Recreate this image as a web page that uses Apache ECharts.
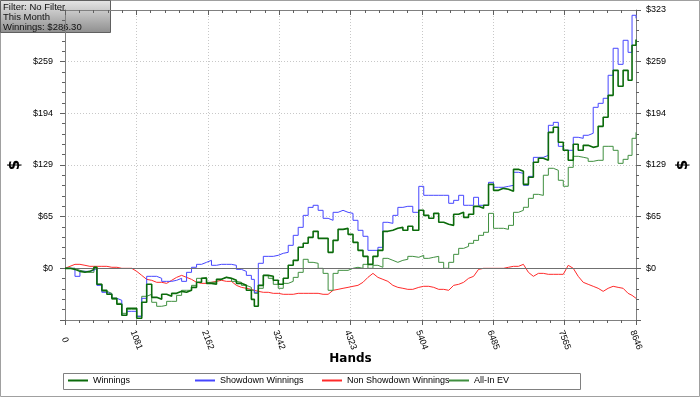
<!DOCTYPE html>
<html><head><meta charset="utf-8">
<script src="https://cdn.jsdelivr.net/npm/echarts@6/dist/echarts.min.js"></script>
<style>html,body{margin:0;padding:0;background:#fff}#c{width:700px;height:397px}</style>
</head><body><div id="c"></div>
<script>
const hands = [0,75,151,226,302,377,438,483,558,634,709,785,860,936,1011,1086,1162,1237,1313,1388,1464,1539,1615,1690,1766,1841,1916,1992,2067,2143,2218,2294,2369,2445,2520,2595,2671,2746,2822,2867,2927,3003,3078,3154,3229,3305,3380,3456,3531,3607,3682,3757,3833,3908,3984,4059,4135,4210,4286,4361,4436,4512,4587,4663,4738,4814,4889,4965,5040,5116,5191,5266,5357,5432,5508,5583,5659,5734,5810,5885,5961,6036,6111,6187,6262,6338,6413,6489,6564,6640,6715,6791,6866,6941,7017,7092,7168,7243,7319,7394,7470,7545,7620,7696,7771,7847,7922,7998,8073,8149,8224,8300,8375,8451,8526,8586,8646];
const winnings = [0,-1.3,-3.8,-5,-3.8,-1.3,1.3,-20,-27.5,-32.5,-37.5,-45,-58.8,-50,-50,-62.5,-42.5,-20,-36.3,-38.8,-32.5,-35,-31.3,-28.8,-30,-27.5,-23.8,-17.5,-12.5,-18.8,-20,-13.8,-11.3,-12.5,-15,-18.8,-21.3,-27.5,-38.8,-47.5,-21.3,-8.8,-10,-15,-20,-12.5,3.8,10,26.3,31.3,38.8,46.3,37.5,37.5,20,35,48.8,50,42.5,32.5,22.5,15,5,15,22.5,46.3,47.6,50.1,51.3,47.6,52.6,47.6,72.6,66.3,62.6,68.8,57.6,55.1,53.8,67.6,70.1,63.8,67.6,77.6,75.1,78.9,105.1,97.6,100.1,98.9,96.4,123.9,121.4,105.1,113.9,132.7,137.7,135.2,170.2,176.5,157.7,147.7,135.2,155.2,147.7,153.9,151.4,152.7,177.7,189,216.5,247.8,227.8,247.8,235.3,279.1,286.3];
const showdownWinnings = [0,0,-10,-3.8,-3.8,-2.5,0,-21.3,-30,-32.5,-37.5,-40,-58.8,-53.8,-53.8,-60,-37.5,-10,-10,-12.5,-16.3,-16.3,-15,-12.5,-16.3,-5,1.3,5,7.5,10,3.8,5,5,5,3.8,-1.3,-3.8,-8.8,-13.8,-30,6.3,15,15,16.3,18.8,20,28.8,41.3,51.3,66.3,76.3,78.9,72.6,62.6,60.1,70.1,72.6,70.1,68.8,60.1,47.6,40.1,22.5,22.5,26.3,57.6,56.3,66.3,76.3,77.6,77.6,70.1,102.6,91.4,91.4,91.4,91.4,91.4,81.4,85.1,91.4,78.9,78.9,88.9,78.9,78.9,107.6,101.4,101.4,102.6,103.9,120.2,118.9,103.9,115.1,138.9,138.9,141.4,179,182.7,152.7,147.7,147.7,164,162.7,166.5,169,201.5,206.5,212.8,241.6,275.4,255.3,285.4,270.3,316.7,312.9];
const nonShowdownWinnings = [0,2.5,5,5,3.8,2.5,2.5,2.5,2.5,2.5,1.3,1.3,0,0,0,-3.8,-8.8,-13.8,-15,-17.5,-17.5,-18.8,-15,-11.3,-8.8,-11.3,-13.8,-17.5,-18.8,-18.8,-17.5,-16.3,-15,-16.3,-16.3,-21.3,-23.8,-25,-26.3,-27.5,-28.8,-30,-30,-31.3,-31.3,-32.5,-32.5,-32.5,-31.3,-31.3,-31.3,-31.3,-31.3,-32.5,-32.5,-27.5,-26.3,-25,-23.8,-22.5,-21.3,-17.5,-11.3,-6.3,-11.3,-13.8,-16.3,-21.3,-23.8,-25,-26.3,-26.3,-23.8,-22.5,-22.5,-23.8,-26.3,-26.3,-27.5,-21.3,-20,-17.5,-12.5,-10,-1.3,0,0,0,0,0,1.3,2.5,2.5,5,-5,-10,-6.3,-6.3,-7.5,-7.5,-7.5,-7.5,3.8,0,-10,-17.5,-20,-22.5,-25,-28.8,-25,-22.5,-23.8,-25,-31.3,-33.8,-37.5];
const allInEV = [0,0,-2.5,-3.8,-5,-5,1.3,-20,-28.8,-31.3,-38.8,-43.8,-56.3,-51.3,-51.3,-60,-35,-32.5,-42.5,-47.5,-46.3,-41.3,-41.3,-33.8,-27.5,-27.5,-21.3,-12.5,-11.3,-17.5,-17.5,-13.8,-11.3,-12.5,-16.3,-17.5,-21.3,-23.8,-27.5,-31.3,-25,-8.8,-12.5,-20,-25,-18.8,-16.3,-11.3,-5,11.3,7.5,6.3,0,-6.3,-27.5,-6.3,-2.5,-2.5,0,1.3,0,5,0,3.8,1.3,12.5,10,7.5,10,11.3,15,13.8,16.3,12.5,13.8,15,7.5,0,7.5,17.5,25,27.5,31.3,35,41.3,45.1,68.8,50.1,50.1,48.8,53.8,70.1,72.6,76.4,87.6,92.6,91.3,116.5,125.2,122.7,110.2,102.7,126.4,140.2,139,137.7,133.9,135.2,135.2,152.7,152.7,147.7,131.4,136.4,141.4,162.7,170.2];
const yStep = 64.66;
const yMin = -64.66;
const yMax = 323.3;
const xStep = 1080.75;
const xMax = 8646;
const colors = {'Winnings':'#0b6b0b','Showdown Winnings':'#4646ff','Non Showdown Winnings':'#ff2a2a','All-In EV':'#3f8f3f'};

const FONT = 'Liberation Sans, Arial, sans-serif';
const chart = echarts.init(document.getElementById('c'), null, {renderer:'canvas'});
const pair = arr => hands.map((h,i)=>[h, arr[i]]);
const yLabelL = v => (v < -1 || v > 320) ? '' : '$' + Math.round(v);
const yLabelR = v => v < -1 ? '' : '$' + Math.round(v);
const gridLine = {show:true, lineStyle:{color:'#c8c8c8', type:[1,2], width:1}};
const legendItem = (name, left) => ({
  data:[name], left:left, top:376, padding:0, itemWidth:20, itemHeight:2, icon:'rect', itemGap:0,
  textStyle:{fontSize:9, fontFamily:FONT, color:'#000'}, selectedMode:false
});
const option = {
  backgroundColor:'#fff',
  animation:false,
  grid:{left:63, right:64, top:10, bottom:77, containLabel:false},
  legend:[legendItem('Winnings',68), legendItem('Showdown Winnings',195), legendItem('Non Showdown Winnings',322), legendItem('All-In EV',449)],
  xAxis:[{
    type:'value', min:0, max:xMax, interval:xStep, position:'bottom',
    name:'Hands', nameLocation:'middle', nameGap:33, nameMoveOverlap:false,
    nameTextStyle:{fontSize:12, fontWeight:'bold', fontFamily:'DejaVu Sans', color:'#000'},
    axisLine:{show:true, onZero:false, lineStyle:{color:'#808080'}},
    axisTick:{show:true, length:5, lineStyle:{color:'#606060'}},
    minorTick:{show:true, splitNumber:5, length:3, lineStyle:{color:'#606060'}},
    splitLine:gridLine,
    axisLabel:{rotate:-70, fontSize:9, fontFamily:FONT, color:'#000', margin:20, align:'center', verticalAlign:'middle',
      formatter:v=>String(Math.round(v)), showMinLabel:true, showMaxLabel:true}
  },{
    type:'value', min:0, max:xMax, interval:xStep, position:'top',
    axisLine:{show:true, onZero:false, lineStyle:{color:'#808080'}},
    axisTick:{show:true, inside:true, length:5, lineStyle:{color:'#606060'}},
    minorTick:{show:true, splitNumber:5, length:3, lineStyle:{color:'#606060'}},
    splitLine:{show:false}, axisLabel:{show:false}
  }],
  yAxis:[{
    type:'value', min:yMin, max:yMax, interval:yStep, position:'left',
    name:'$', nameLocation:'middle', nameGap:42, nameRotate:90, nameMoveOverlap:false,
    nameTextStyle:{fontSize:15, fontWeight:'bold', fontFamily:'DejaVu Sans', color:'#000'},
    axisLine:{show:true, onZero:false, lineStyle:{color:'#808080'}},
    axisTick:{show:true, length:5, lineStyle:{color:'#606060'}},
    minorTick:{show:true, splitNumber:5, length:3, lineStyle:{color:'#606060'}},
    splitLine:gridLine,
    axisLabel:{fontSize:9, fontFamily:FONT, color:'#000', margin:12, formatter:yLabelL}
  },{
    type:'value', min:yMin, max:yMax, interval:yStep, position:'right',
    name:'$', nameLocation:'middle', nameGap:40, nameRotate:90, nameMoveOverlap:false,
    nameTextStyle:{fontSize:15, fontWeight:'bold', fontFamily:'DejaVu Sans', color:'#000'},
    axisLine:{show:true, onZero:false, lineStyle:{color:'#808080'}},
    axisTick:{show:true, length:5, lineStyle:{color:'#606060'}},
    minorTick:{show:true, splitNumber:5, length:3, lineStyle:{color:'#606060'}},
    splitLine:{show:false},
    axisLabel:{fontSize:9, fontFamily:FONT, color:'#000', margin:10, formatter:yLabelR}
  }],
  series:[
    {name:'Non Showdown Winnings', type:'line', data:pair(nonShowdownWinnings), showSymbol:false, color:colors['Non Showdown Winnings'], lineStyle:{width:1}, z:2,
      markLine:{silent:true, symbol:'none', label:{show:false}, lineStyle:{color:'#707070', type:'solid', width:1}, data:[{yAxis:0}]}},
    {name:'All-In EV', type:'line', step:'end', data:pair(allInEV), showSymbol:false, color:colors['All-In EV'], lineStyle:{width:1}, z:3},
    {name:'Showdown Winnings', type:'line', step:'end', data:pair(showdownWinnings), showSymbol:false, color:colors['Showdown Winnings'], lineStyle:{width:1}, z:4},
    {name:'Winnings', type:'line', step:'end', data:pair(winnings), showSymbol:false, color:colors['Winnings'], lineStyle:{width:1.6}, z:5}
  ],
  graphic:[
    {type:'rect', z:-10, silent:true, shape:{x:0.5,y:0.5,width:699,height:396}, style:{fill:'none', stroke:'#a0a0a0', lineWidth:1}},
    {type:'rect', z:-5, silent:true, shape:{x:63.5,y:373.5,width:517,height:16}, style:{fill:'#fff', stroke:'#808080', lineWidth:1}},
    {type:'group', z:100, children:[
      {type:'rect', shape:{x:0.5,y:0.5,width:110,height:32}, style:{
        fill:new echarts.graphic.LinearGradient(0,0,0,1,[{offset:0,color:'#e6e6e6'},{offset:1,color:'#8e8e8e'}]),
        stroke:'#606060', lineWidth:1}},
      {type:'text', x:3, y:2, style:{text:'Filter: No Filter\nThis Month\nWinnings: $286.30', font:'9.5px '+FONT, fill:'#111', lineHeight:10}}
    ]}
  ]
};
chart.setOption(option);
</script></body></html>
